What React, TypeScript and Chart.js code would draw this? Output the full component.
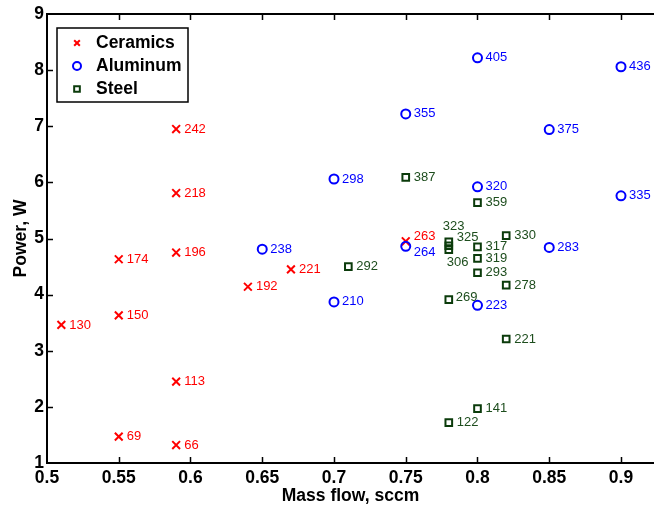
import React, { useEffect, useRef } from 'react';
import { Chart, registerables } from 'chart.js';

Chart.register(...registerables);

// ---- Data ----
const ceramicsFlow = [0.51, 0.55, 0.55, 0.55, 0.59, 0.59, 0.59, 0.59, 0.59, 0.64, 0.67, 0.75];
const ceramicsPower = [3.46, 4.63, 3.63, 1.47, 6.95, 5.81, 4.75, 2.45, 1.32, 4.14, 4.45, 4.95];
const ceramicsLabels = ['130', '174', '150', '69', '242', '218', '196', '113', '66', '192', '221', '263'];

const aluminumFlow = [0.65, 0.7, 0.7, 0.75, 0.75, 0.8, 0.8, 0.8, 0.85, 0.85, 0.9, 0.9];
const aluminumPower = [4.81, 6.06, 3.87, 7.22, 4.86, 8.22, 5.92, 3.81, 6.94, 4.84, 8.06, 5.76];
const aluminumLabels = ['238', '298', '210', '355', '264', '405', '320', '223', '375', '283', '436', '335'];

const steelFlow = [0.71, 0.75, 0.8, 0.78, 0.78, 0.78, 0.8, 0.8, 0.8, 0.82, 0.82, 0.78, 0.82, 0.8, 0.78];
const steelPower = [4.5, 6.09, 5.64, 4.94, 4.87, 4.8, 4.85, 4.645, 4.39, 5.05, 4.17, 3.91, 3.21, 1.97, 1.72];
const steelLabels = ['292', '387', '359', '323', '325', '306', '317', '319', '293', '330', '278', '269', '221', '141', '122'];

const xTicks = [0.5, 0.55, 0.6, 0.65, 0.7, 0.75, 0.8, 0.85, 0.9];
const xTickLabels = ['0.5', '0.55', '0.6', '0.65', '0.7', '0.75', '0.8', '0.85', '0.9'];
const yTicks = [1, 2, 3, 4, 5, 6, 7, 8, 9];
const yTickLabels = ['1', '2', '3', '4', '5', '6', '7', '8', '9'];

const seriesNames = ['Ceramics', 'Aluminum', 'Steel'];

// ---- Styles ----
const FONT = '"Liberation Sans", Arial, Helvetica, sans-serif';
const RED = '#ff0000';
const BLUE = '#0000ff';
const GREEN = '#0b3b0b';
const GREEN_TEXT = '#1d4d1d';

const labelOffsets: Record<string, [number, number]> = {
  'Ceramics:263': [8, -5],
  'Aluminum:264': [8, 6],
  'Steel:323': [-6, -15],
  'Steel:325': [8, -8],
  'Steel:306': [-2, 13],
  'Steel:269': [7, -2],
};

const toPoints = (xs: number[], ys: number[]) => xs.map((x, i) => ({ x, y: ys[i] }));

const pointLabelPlugin = {
  id: 'pointLabels',
  afterDatasetsDraw(chart: any) {
    const ctx = chart.ctx;
    ctx.save();
    ctx.font = `13px ${FONT}`;
    ctx.textAlign = 'left';
    ctx.textBaseline = 'middle';
    chart.data.datasets.forEach((ds: any, di: number) => {
      const meta = chart.getDatasetMeta(di);
      meta.data.forEach((el: any, i: number) => {
        const text = ds.pointLabels[i];
        const off = labelOffsets[ds.label + ':' + text] || [8, 0];
        ctx.fillStyle = ds.labelColor;
        ctx.fillText(text, el.x + off[0], el.y + off[1]);
      });
    });
    ctx.restore();
  },
};

function drawMarker(ctx: CanvasRenderingContext2D, style: string, x: number, y: number, r: number, color: string) {
  ctx.save();
  ctx.strokeStyle = color;
  ctx.lineWidth = 2;
  ctx.beginPath();
  if (style === 'crossRot') {
    const d = r * Math.SQRT1_2;
    ctx.moveTo(x - d, y - d);
    ctx.lineTo(x + d, y + d);
    ctx.moveTo(x - d, y + d);
    ctx.lineTo(x + d, y - d);
  } else if (style === 'circle') {
    ctx.arc(x, y, r, 0, Math.PI * 2);
  } else {
    const d = r * Math.SQRT1_2;
    ctx.rect(x - d, y - d, 2 * d, 2 * d);
  }
  ctx.stroke();
  ctx.restore();
}

const axisDecorPlugin = {
  id: 'axisDecor',
  afterDraw(chart: any) {
    const ctx = chart.ctx;
    const xs = chart.scales.x;
    const ys = chart.scales.y;
    const { left, top, bottom } = chart.chartArea;
    ctx.save();
    ctx.strokeStyle = '#000';
    ctx.lineWidth = 1.5;
    ctx.beginPath();
    xTicks.forEach((v) => {
      const px = Math.round(xs.getPixelForValue(v)) + 0.5;
      if (v === xTicks[0]) return;
      ctx.moveTo(px, bottom);
      ctx.lineTo(px, bottom - 6);
      ctx.moveTo(px, top);
      ctx.lineTo(px, top + 6);
    });
    yTicks.forEach((v) => {
      const py = Math.round(ys.getPixelForValue(v)) + 0.5;
      if (v === yTicks[0] || v === yTicks[yTicks.length - 1]) return;
      ctx.moveTo(left, py);
      ctx.lineTo(left + 6, py);
    });
    ctx.stroke();

    // Legend
    const bx = 57, by = 28, bw = 131, bh = 74;
    ctx.fillStyle = '#fff';
    ctx.fillRect(bx, by, bw, bh);
    ctx.lineWidth = 1.5;
    ctx.strokeStyle = '#000';
    ctx.strokeRect(bx, by, bw, bh);
    ctx.font = `bold 17.5px ${FONT}`;
    ctx.textAlign = 'left';
    ctx.textBaseline = 'middle';
    chart.data.datasets.forEach((ds: any, i: number) => {
      const ry = 43 + i * 23;
      drawMarker(ctx, ds.pointStyle, 77, ry, 4, ds.borderColor);
      ctx.fillStyle = '#000';
      ctx.fillText(ds.label, 96, ry);
    });
    ctx.restore();
  },
};

export default function App() {
  const canvasRef = useRef<HTMLCanvasElement | null>(null);

  useEffect(() => {
    if (!canvasRef.current) return;
    const tickFont = { family: FONT, size: 17.5, weight: 'bold' as const, lineHeight: 1 };
    const chart = new Chart(canvasRef.current, {
      type: 'scatter',
      data: {
        datasets: [
          {
            label: seriesNames[0],
            data: toPoints(ceramicsFlow, ceramicsPower),
            pointStyle: 'crossRot',
            pointRadius: 5.5,
            borderColor: RED,
            backgroundColor: 'transparent',
            pointBorderWidth: 2,
            order: 3,
            pointLabels: ceramicsLabels,
            labelColor: RED,
          } as any,
          {
            label: seriesNames[1],
            data: toPoints(aluminumFlow, aluminumPower),
            pointStyle: 'circle',
            pointRadius: 4.5,
            borderColor: BLUE,
            backgroundColor: 'transparent',
            pointBorderWidth: 2,
            order: 2,
            pointLabels: aluminumLabels,
            labelColor: BLUE,
          } as any,
          {
            label: seriesNames[2],
            data: toPoints(steelFlow, steelPower),
            pointStyle: 'rect',
            pointRadius: 4.7,
            borderColor: GREEN,
            backgroundColor: 'transparent',
            pointBorderWidth: 2,
            order: 1,
            pointLabels: steelLabels,
            labelColor: GREEN_TEXT,
          } as any,
        ],
      },
      options: {
        animation: false,
        responsive: false,
        devicePixelRatio: 1,
        layout: { autoPadding: false, padding: { top: 14, left: 0, right: 0, bottom: 0 } },
        plugins: { legend: { display: false }, tooltip: { enabled: false } },
        scales: {
          x: {
            type: 'linear',
            position: 'bottom',
            min: 0.5,
            max: 0.923,
            afterBuildTicks: (s: any) => {
              s.ticks = xTicks.map((v) => ({ value: v }));
            },
            afterFit: (s: any) => {
              s.height = 42;
            },
            ticks: {
              callback: (_v: any, i: number) => xTickLabels[i],
              font: tickFont,
              color: '#000',
              padding: 6,
              maxRotation: 0,
              autoSkip: false,
            },
            grid: { display: true, drawOnChartArea: false, drawTicks: false },
            border: { display: true, color: '#000', width: 2 },
            title: {
              display: true,
              text: 'Mass flow, sccm',
              color: '#000',
              font: tickFont,
              padding: { top: 0, bottom: 0 },
            },
          },
          x2: {
            type: 'linear',
            position: 'top',
            min: 0.5,
            max: 0.923,
            ticks: { display: false },
            grid: { display: true, drawOnChartArea: false, drawTicks: false },
            border: { display: true, color: '#000', width: 2 },
            afterFit: (s: any) => {
              s.height = 0;
            },
          },
          y: {
            type: 'linear',
            min: 1,
            max: 9,
            afterBuildTicks: (s: any) => {
              s.ticks = yTicks.map((v) => ({ value: v }));
            },
            afterFit: (s: any) => {
              s.width = 47;
            },
            ticks: {
              callback: (_v: any, i: number) => yTickLabels[i],
              font: tickFont,
              color: '#000',
              padding: 3,
              autoSkip: false,
            },
            grid: { display: true, drawOnChartArea: false, drawTicks: false },
            border: { display: true, color: '#000', width: 2 },
            title: {
              display: true,
              text: 'Power, W',
              color: '#000',
              font: tickFont,
              padding: { top: 12, bottom: 0 },
            },
          },
        },
      } as any,
      plugins: [pointLabelPlugin, axisDecorPlugin],
    });
    return () => chart.destroy();
  }, []);

  return (
    <div style={{ position: 'fixed', left: 0, top: 0, width: 654, height: 505, background: '#fff' }}>
      <canvas ref={canvasRef} width={654} height={505} style={{ display: 'block' }} />
    </div>
  );
}
